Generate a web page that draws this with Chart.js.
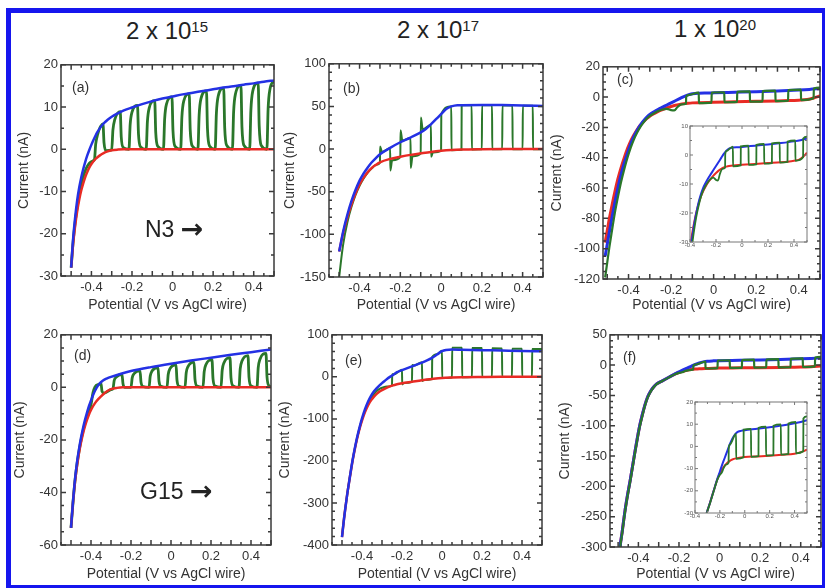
<!DOCTYPE html>
<html>
<head>
<meta charset="utf-8">
<title>Chopped-light voltammograms</title>
<script src="https://cdn.jsdelivr.net/npm/chart.js@4.4.1/dist/chart.umd.min.js"></script>
<style>
  html, body { margin: 0; padding: 0; background: #fff; }
  #page { position: relative; width: 825px; height: 588px; overflow: hidden; background: #fff;
          font-family: "Liberation Sans", Arial, Helvetica, sans-serif; color: #222; }
  #frame { position: absolute; left: 6px; top: 8px; right: 0; bottom: 0; box-sizing: border-box;
           border-style: solid; border-color: #1616ee; border-width: 5px 3px 3px 5px; }
  canvas { position: absolute; }
  .lbl { position: absolute; white-space: nowrap; line-height: 1; transform: translateY(-50%); z-index: 5; }
  .col { font-size: 24px; transform: translate(-50%, -50%); }
  .col sup { font-size: 15px; vertical-align: baseline; position: relative; top: -7px; }
  .pl { font-size: 14px; color: #333; }
  .big { font-size: 23px; }
  .arr { font-family: "DejaVu Sans", sans-serif; font-size: 27px; font-weight: bold; position: relative; top: 1px; }
</style>
</head>
<body>
<div id="page">
  <div id="frame"></div>
  <div class="lbl col" style="left:167px;top:31px">2 x 10<sup>15</sup></div>
  <div class="lbl col" style="left:438px;top:30px">2 x 10<sup>17</sup></div>
  <div class="lbl col" style="left:715px;top:29px">1 x 10<sup>20</sup></div>
  <div class="lbl pl" style="left:72px;top:87px">(a)</div>
  <div class="lbl pl" style="left:343px;top:88px">(b)</div>
  <div class="lbl pl" style="left:617px;top:79px">(c)</div>
  <div class="lbl pl" style="left:74px;top:355px">(d)</div>
  <div class="lbl pl" style="left:345px;top:360px">(e)</div>
  <div class="lbl pl" style="left:623px;top:357px">(f)</div>
  <div class="lbl big" style="left:145px;top:227px">N3 <span class="arr">→</span></div>
  <div class="lbl big" style="left:140px;top:489px">G15 <span class="arr">→</span></div>
</div>
<script>
// tick labels
const xTickValues = [-0.4, -0.2, 0, 0.2, 0.4];
const aYTicks = [-30, -20, -10, 0, 10, 20];
const bYTicks = [-150, -100, -50, 0, 50, 100];
const cYTicks = [-120, -100, -80, -60, -40, -20, 0, 20];
const dYTicks = [-60, -40, -20, 0, 20];
const eYTicks = [-400, -300, -200, -100, 0, 100];
const fYTicks = [-300, -250, -200, -150, -100, -50, 0, 50];
const cInsetYTicks = [-30, -20, -10, 0, 10];
const fInsetYTicks = [-30, -20, -10, 0, 10, 20];

const xTitle = 'Potential (V vs AgCl wire)';
const yTitle = 'Current (nA)';

// [potential (V), current (nA)]
// (a) N3, 2 x 10^15
const aBlue = [[-0.5,-28],[-0.49,-21],[-0.48,-16],[-0.47,-12],[-0.46,-9],[-0.45,-6.6],[-0.44,-4.6],[-0.43,-2.9],[-0.42,-1.4],[-0.41,-0.1],[-0.4,1.1],[-0.39,2.2],[-0.38,3.2],[-0.37,4.1],[-0.36,4.9],[-0.34,6.1],[-0.32,7],[-0.3,7.7],[-0.27,8.5],[-0.24,9.2],[-0.2,9.9],[-0.15,10.7],[-0.1,11.4],[-0.05,12],[0,12.5],[0.05,13],[0.1,13.4],[0.15,13.8],[0.2,14.2],[0.25,14.6],[0.3,14.9],[0.35,15.3],[0.4,15.6],[0.45,16],[0.5,16.3]];
const aRed = [[-0.5,-28],[-0.49,-22.3],[-0.48,-18],[-0.47,-14.6],[-0.46,-11.9],[-0.45,-9.7],[-0.44,-8],[-0.43,-6.5],[-0.42,-5.3],[-0.41,-4.3],[-0.4,-3.5],[-0.38,-2.3],[-0.36,-1.5],[-0.34,-0.9],[-0.32,-0.5],[-0.3,-0.25],[-0.27,-0.08],[-0.24,0],[0.5,0]];
const aGreen = [[-0.5,-28],[-0.49,-21.8],[-0.48,-17.2],[-0.47,-13.6],[-0.46,-10.6],[-0.45,-8.3],[-0.44,-6.4],[-0.43,-5],[-0.42,-4],[-0.41,-3.3],[-0.4,-2.9],[-0.385,-2.4],
  [-0.379,1.2],[-0.37,3.4],[-0.343,6],[-0.338,1.6],[-0.328,-0.3],[-0.3,-0.15],
  [-0.294,4.6],[-0.285,7],[-0.258,8.9],[-0.253,2.9],[-0.243,0.4],[-0.215,0],
  [-0.209,5.9],[-0.2,8.8],[-0.173,10.4],[-0.168,3.6],[-0.158,0.6],[-0.13,0],
  [-0.124,6.6],[-0.115,9.8],[-0.088,11.5],[-0.083,4],[-0.073,0.7],[-0.045,0],
  [-0.039,7.2],[-0.03,10.7],[-0.003,12.4],[0.002,4.4],[0.012,0.7],[0.04,0],
  [0.046,7.7],[0.055,11.4],[0.082,13.1],[0.087,4.6],[0.097,0.8],[0.125,0],
  [0.131,8.1],[0.14,12],[0.167,13.8],[0.172,4.9],[0.182,0.8],[0.21,0],
  [0.216,8.5],[0.225,12.6],[0.252,14.5],[0.257,5.1],[0.267,0.9],[0.295,0],
  [0.301,8.9],[0.31,13.1],[0.337,15.1],[0.342,5.3],[0.352,0.9],[0.38,0],
  [0.386,9.2],[0.395,13.7],[0.422,15.7],[0.427,5.6],[0.437,0.9],[0.465,0],
  [0.471,9.6],[0.48,14.2],[0.5,16.2]];

// (b) N3, 2 x 10^17
const bBlue = [[-0.5,-120],[-0.48,-96],[-0.46,-77],[-0.44,-61],[-0.42,-48],[-0.4,-37],[-0.38,-28.5],[-0.36,-21.5],[-0.34,-15.5],[-0.32,-10.5],[-0.3,-6],[-0.25,1.5],[-0.2,8],[-0.15,13.5],[-0.1,19.5],[-0.075,23.5],[-0.05,29],[-0.025,35],[0,41],[0.025,47],[0.05,50],[0.08,51.5],[0.2,51.8],[0.3,51.6],[0.4,51.2],[0.5,50.5]];
const bRed = [[-0.5,-120],[-0.48,-98],[-0.46,-80],[-0.44,-65],[-0.42,-52],[-0.4,-41.5],[-0.38,-33.5],[-0.36,-27],[-0.34,-22],[-0.32,-18.5],[-0.3,-15.5],[-0.25,-11.5],[-0.2,-9],[-0.15,-6.8],[-0.1,-5],[-0.05,-3.3],[0,-2],[0.05,-1.1],[0.1,-0.6],[0.2,-0.2],[0.3,0],[0.5,0]];
const bGreen = [[-0.5,-150],[-0.49,-129],[-0.48,-111],[-0.46,-86],[-0.44,-68],[-0.42,-54],[-0.4,-43],[-0.38,-34.5],[-0.36,-27.5],[-0.34,-22.5],[-0.32,-18.8],[-0.3,-16],
  [-0.299,3],[-0.29,-3.5],[-0.25,1],
  [-0.249,-25],[-0.24,-13],[-0.2,-9.3],
  [-0.199,22],[-0.19,10],[-0.15,13],
  [-0.149,-22],[-0.14,-8.5],[-0.1,-5.3],
  [-0.099,37],[-0.09,23],[-0.05,28.5],
  [-0.049,-9],[-0.04,-4],[0,-2.2],
  [0.001,41],[0.05,50],
  [0.051,-1.3],[0.1,-0.8],
  [0.101,51.3],[0.15,51.5],
  [0.151,-0.4],[0.2,-0.3],
  [0.201,51.5],[0.25,51.5],
  [0.251,-0.2],[0.3,-0.2],
  [0.301,51.3],[0.35,51.2],
  [0.351,-0.2],[0.4,-0.2],
  [0.401,50.9],[0.45,50.7],
  [0.451,-0.2],[0.5,-0.2]];

// (c) N3, 1 x 10^20 (also used by its inset)
const cBlue = [[-0.51,-105],[-0.5,-97],[-0.49,-89],[-0.48,-81],[-0.465,-70],[-0.45,-60],[-0.435,-51],[-0.42,-43.5],[-0.405,-37],[-0.39,-31],[-0.375,-26],[-0.36,-22],[-0.345,-18.6],[-0.33,-15.7],[-0.315,-13.4],[-0.3,-11.5],[-0.28,-9.6],[-0.26,-8],[-0.24,-6.6],[-0.22,-5.2],[-0.2,-3.8],[-0.18,-2.4],[-0.16,-1],[-0.14,0.4],[-0.12,1.5],[-0.1,2.2],[-0.07,2.6],[-0.03,2.7],[0,2.8],[0.1,3.2],[0.2,3.6],[0.3,4.1],[0.4,4.7],[0.45,5.1],[0.5,5.7]];
const cRed = [[-0.51,-96],[-0.5,-88],[-0.49,-80],[-0.48,-73],[-0.465,-63],[-0.45,-54],[-0.435,-46.5],[-0.42,-40],[-0.405,-34],[-0.39,-29],[-0.375,-25],[-0.36,-21.5],[-0.345,-18.6],[-0.33,-16.2],[-0.315,-14.2],[-0.3,-12.6],[-0.28,-10.9],[-0.26,-9.4],[-0.24,-8.2],[-0.22,-7.1],[-0.2,-6.2],[-0.18,-5.4],[-0.16,-4.8],[-0.14,-4.3],[-0.12,-4],[-0.1,-3.8],[0,-3.4],[0.1,-3.1],[0.2,-2.8],[0.3,-2.5],[0.35,-2.3],[0.4,-2],[0.44,-1.6],[0.47,-0.6],[0.5,0.8]];
const cGreen = [[-0.51,-119],[-0.5,-109],[-0.49,-99],[-0.48,-90],[-0.465,-77],[-0.45,-66],[-0.435,-56],[-0.42,-47.5],[-0.405,-40],[-0.39,-33.5],[-0.375,-28],[-0.36,-23.5],[-0.345,-19.8],[-0.33,-16.8],[-0.315,-14.3],[-0.3,-12.4],[-0.28,-10.6],[-0.26,-9.2],[-0.24,-8.2],[-0.22,-7.8],[-0.2,-8.6],[-0.185,-8.8],[-0.17,-6.5],[-0.15,-4.8],[-0.13,-4.4],
  [-0.129,0.2],[-0.12,1.3],[-0.07,2.9],
  [-0.069,-3.9],[-0.01,-3.6],
  [-0.009,3],[0.05,3.2],
  [0.051,-3.4],[0.11,-3.2],
  [0.111,3.5],[0.17,3.8],
  [0.171,-3],[0.23,-2.8],
  [0.231,4],[0.29,4.3],
  [0.291,-2.6],[0.35,-2.4],
  [0.351,4.6],[0.41,5],
  [0.411,-2],[0.47,-0.8],
  [0.471,5.7],[0.5,6.3]];

// (d) G15, 2 x 10^15
const dBlue = [[-0.5,-53.5],[-0.49,-43.5],[-0.48,-35],[-0.47,-28.5],[-0.46,-23.5],[-0.45,-19.2],[-0.44,-15.6],[-0.43,-12.4],[-0.42,-9.6],[-0.41,-7.1],[-0.4,-5],[-0.39,-3],[-0.38,-1.3],[-0.37,0.1],[-0.36,1.2],[-0.34,2.6],[-0.32,3.4],[-0.3,4],[-0.25,5.2],[-0.2,6.2],[-0.1,7.7],[0,9],[0.1,10.2],[0.2,11.3],[0.3,12.4],[0.4,13.4],[0.5,14.4]];
const dRed = [[-0.5,-53.5],[-0.49,-44],[-0.48,-36],[-0.47,-30],[-0.46,-25],[-0.45,-21],[-0.44,-17.6],[-0.43,-14.8],[-0.42,-12.4],[-0.41,-10.3],[-0.4,-8.6],[-0.38,-6],[-0.36,-4.2],[-0.34,-2.7],[-0.32,-1.5],[-0.3,-0.7],[-0.27,-0.2],[-0.24,0],[0.5,0]];
const dGreen = [[-0.5,-53.5],[-0.49,-43.8],[-0.48,-35.5],[-0.47,-29.3],[-0.46,-24.3],[-0.45,-20.1],[-0.44,-16.6],[-0.43,-13.6],[-0.42,-11],[-0.41,-8.7],[-0.4,-6.6],[-0.39,-2],[-0.38,0.2],[-0.36,1.2],[-0.35,1.5],[-0.345,-1.5],[-0.335,-2.2],[-0.3,-0.9],[-0.29,-0.5],
  [-0.284,2.6],[-0.275,3.8],[-0.245,4.9],[-0.24,1.4],[-0.23,0],[-0.2,0],
  [-0.194,3.6],[-0.185,5.2],[-0.155,6.3],[-0.15,2],[-0.14,0.3],[-0.11,0],
  [-0.104,4.2],[-0.095,6.2],[-0.065,7.5],[-0.06,2.3],[-0.05,0.4],[-0.02,0],
  [-0.014,4.9],[-0.005,7.1],[0.025,8.6],[0.03,2.7],[0.04,0.4],[0.07,0],
  [0.076,5.5],[0.085,7.9],[0.115,9.6],[0.12,3],[0.13,0.5],[0.16,0],
  [0.166,6],[0.175,8.7],[0.205,10.5],[0.21,3.3],[0.22,0.5],[0.25,0],
  [0.256,6.5],[0.265,9.4],[0.295,11.3],[0.3,3.6],[0.31,0.6],[0.34,0],
  [0.346,7],[0.355,10],[0.385,12.1],[0.39,3.9],[0.4,0.6],[0.43,0],
  [0.436,7.4],[0.445,10.7],[0.475,12.9],[0.48,4.1],[0.49,0.6],[0.5,0.2]];

// (e) G15, 2 x 10^17
const eBlue = [[-0.5,-381],[-0.49,-338],[-0.475,-283],[-0.46,-236],[-0.45,-206],[-0.44,-180],[-0.425,-145],[-0.41,-116],[-0.4,-99],[-0.385,-77],[-0.37,-59],[-0.355,-45],[-0.34,-34],[-0.325,-26],[-0.31,-19],[-0.3,-15],[-0.275,-5],[-0.25,3],[-0.225,11],[-0.2,16],[-0.15,25],[-0.1,34],[-0.075,39],[-0.05,45],[-0.025,53],[0,61],[0.02,64],[0.05,65],[0.1,64.5],[0.2,63.5],[0.3,62.5],[0.4,61.5],[0.5,61]];
const eRed = [[-0.5,-381],[-0.49,-338],[-0.475,-283],[-0.46,-237],[-0.45,-208],[-0.44,-182],[-0.425,-148],[-0.41,-120],[-0.4,-104],[-0.385,-84],[-0.37,-68],[-0.355,-56],[-0.34,-47],[-0.325,-40],[-0.31,-34.5],[-0.3,-31.5],[-0.275,-25.5],[-0.25,-21],[-0.225,-17.5],[-0.2,-15],[-0.15,-11.5],[-0.1,-8],[-0.05,-5],[0,-2.5],[0.05,-1.4],[0.1,-0.8],[0.2,-0.3],[0.3,0],[0.5,0]];
const eGreen = [[-0.5,-381],[-0.49,-338],[-0.475,-283],[-0.46,-237],[-0.45,-207],[-0.44,-181],[-0.425,-147],[-0.41,-118],[-0.4,-102],[-0.385,-81],[-0.37,-64],[-0.355,-51],[-0.34,-41],[-0.325,-33],[-0.31,-28],[-0.3,-26],[-0.275,-23],[-0.25,-21.5],
  [-0.249,6],[-0.24,6],[-0.2,17],
  [-0.199,-18],[-0.19,-14.5],[-0.15,-11.8],
  [-0.149,28],[-0.14,27],[-0.1,35],
  [-0.099,-10],[-0.09,-7.5],[-0.05,-5.2],
  [-0.049,47],[-0.025,54],[0,62],
  [0.001,-3],[0.05,-1.6],
  [0.051,69],[0.1,69],
  [0.101,-1],[0.15,-0.6],
  [0.151,68.5],[0.2,68.5],
  [0.201,-0.4],[0.25,-0.2],
  [0.251,68],[0.3,67.5],
  [0.301,-0.1],[0.35,-0.1],
  [0.351,67],[0.4,67],
  [0.401,-0.1],[0.45,-0.1],
  [0.451,66.5],[0.5,66.5]];

// (f) G15, 1 x 10^20 (also used by its inset)
const fBlue = [[-0.5,-350],[-0.49,-300],[-0.48,-275],[-0.466,-240],[-0.453,-213],[-0.44,-189],[-0.428,-165],[-0.417,-143],[-0.405,-120],[-0.393,-99],[-0.38,-81],[-0.368,-66],[-0.355,-53],[-0.34,-43],[-0.325,-36],[-0.31,-31],[-0.28,-25.5],[-0.25,-20],[-0.22,-14.5],[-0.2,-11.3],[-0.18,-8],[-0.16,-5],[-0.14,-2],[-0.12,1],[-0.1,3.5],[-0.08,5.3],[-0.06,6.4],[-0.03,7],[0,7.3],[0.1,7.9],[0.2,8.6],[0.3,9.4],[0.4,10.4],[0.45,11],[0.5,11.8]];
const fRed = [[-0.5,-350],[-0.49,-300],[-0.48,-275],[-0.466,-240],[-0.453,-213],[-0.44,-189],[-0.428,-165],[-0.417,-143],[-0.405,-120],[-0.393,-99],[-0.38,-81],[-0.368,-66],[-0.355,-53],[-0.34,-43],[-0.325,-36],[-0.31,-31],[-0.28,-25.5],[-0.25,-20],[-0.22,-14.8],[-0.2,-12.2],[-0.18,-10.2],[-0.16,-8.6],[-0.14,-7.4],[-0.12,-6.5],[-0.1,-5.9],[-0.07,-5.4],[-0.03,-5],[0,-4.8],[0.1,-4.5],[0.2,-4.2],[0.3,-3.8],[0.4,-3.3],[0.45,-2.6],[0.5,-1.5]];
const fGreen = [[-0.5,-352],[-0.49,-302],[-0.48,-277],[-0.466,-242],[-0.453,-215],[-0.44,-191],[-0.428,-167],[-0.417,-145],[-0.405,-122],[-0.393,-101],[-0.38,-83],[-0.368,-67],[-0.355,-54],[-0.34,-44],[-0.325,-36.5],[-0.31,-31.3],[-0.28,-25.7],[-0.25,-20.2],[-0.22,-15],[-0.2,-12.8],[-0.185,-11.8],[-0.17,-9.8],[-0.15,-8.2],[-0.13,-7.3],
  [-0.129,-1],[-0.12,0.8],[-0.07,5.6],
  [-0.069,-5.6],[-0.01,-4.9],
  [-0.009,7.6],[0.05,7.9],
  [0.051,-4.7],[0.11,-4.4],
  [0.111,8.4],[0.17,8.9],
  [0.171,-4.1],[0.23,-3.9],
  [0.231,9.3],[0.29,9.9],
  [0.291,-3.7],[0.35,-3.4],
  [0.351,10.3],[0.41,11],
  [0.411,-3.1],[0.47,-2.2],
  [0.471,12.6],[0.5,13.5]];

const page = document.getElementById('page');
const FONT = '"Liberation Sans", Arial, Helvetica, sans-serif';
const BLUE = '#2431e4', RED = '#e82b24', GREEN = '#2a772a';

// box frame with inward ticks on all four sides, plus white fill for insets
const frameTicks = {
  id: 'frameTicks',
  beforeDatasetsDraw(chart, args, o) {
    if (!o.fill) return;
    const a = chart.chartArea;
    chart.ctx.save();
    chart.ctx.fillStyle = o.fill;
    chart.ctx.fillRect(a.left, a.top, a.right - a.left, a.bottom - a.top);
    chart.ctx.restore();
  },
  afterDatasetsDraw(chart, args, o) {
    const {ctx, chartArea: a} = chart;
    const x = chart.scales.x, y = chart.scales.y;
    ctx.save();
    ctx.strokeStyle = o.color;
    ctx.lineWidth = o.width;
    ctx.strokeRect(a.left, a.top, a.right - a.left, a.bottom - a.top);
    ctx.beginPath();
    for (let n = Math.ceil(x.min / o.xStep - 1e-6); n * o.xStep <= x.max + 1e-9; n++) {
      const px = x.getPixelForValue(n * o.xStep);
      const len = n % o.xEvery === 0 ? o.major : o.minor;
      ctx.moveTo(px, a.bottom); ctx.lineTo(px, a.bottom - len);
      ctx.moveTo(px, a.top); ctx.lineTo(px, a.top + len);
    }
    for (let n = Math.ceil(y.min / o.yStep - 1e-6); n * o.yStep <= y.max + 1e-9; n++) {
      const py = y.getPixelForValue(n * o.yStep);
      const len = n % o.yEvery === 0 ? o.major : o.minor;
      ctx.moveTo(a.left, py); ctx.lineTo(a.left + len, py);
      ctx.moveTo(a.right, py); ctx.lineTo(a.right - len, py);
    }
    ctx.stroke();
    ctx.restore();
  }
};
Chart.register(frameTicks);

const label = v => String(Math.round(v * 100) / 100);

function drawPanel(p) {
  const inset = !!p.inset;
  const lh = 14 * 1.2;
  const left = inset ? p.L - 18 : Math.round(p.titleX - lh / 2);
  const top = p.T - (inset ? 6 : 9);
  const right = p.R + 6;
  const bottom = inset ? p.B + 12 : Math.round(p.titleY + lh / 2);

  const cv = document.createElement('canvas');
  cv.width = right - left;
  cv.height = bottom - top;
  Object.assign(cv.style, {left: left + 'px', top: top + 'px', width: cv.width + 'px', height: cv.height + 'px'});
  page.appendChild(cv);

  const series = (pairs, color, width) => ({
    data: pairs.map(([x, y]) => ({x, y})),
    borderColor: color,
    borderWidth: width,
    pointRadius: 0,
    fill: false,
    cubicInterpolationMode: 'monotone'
  });
  const lw = p.lw || 2.5;
  const blue = series(p.blue, BLUE, lw);
  const red = series(p.red, RED, lw);
  const green = series(p.green, GREEN, p.gw || 2.2);
  // first dataset is drawn on top
  const datasets = p.greenTop ? [green, blue, red] : [blue, red, green];

  const tickFont = {family: FONT, size: inset ? 6 : 13};
  const tickColor = inset ? '#555' : '#333';
  const titleFont = {family: FONT, size: 14};

  new Chart(cv, {
    type: 'line',
    data: {datasets},
    options: {
      responsive: false,
      animation: false,
      devicePixelRatio: 1,
      events: [],
      layout: {padding: {left: 0, top: p.T - top, right: right - p.R, bottom: 0}},
      plugins: {
        legend: {display: false},
        tooltip: {enabled: false},
        frameTicks: inset
          ? {xStep: 0.1, xEvery: 2, yStep: p.yStep, yEvery: p.yEvery, major: 3, minor: 2, color: '#777', width: 1, fill: '#fff'}
          : {xStep: 0.05, xEvery: 2, yStep: p.yStep, yEvery: p.yEvery, major: 5, minor: 3, color: '#3a3a3a', width: 1.5}
      },
      scales: {
        x: {
          type: 'linear', position: 'bottom', min: p.xMin, max: p.xMax,
          grid: {display: false, drawTicks: false},
          border: {display: false},
          afterBuildTicks: s => { s.ticks = xTickValues.map(value => ({value})); },
          afterFit: s => { s.height = bottom - p.B; },
          ticks: {font: tickFont, color: tickColor, padding: inset ? 0 : 4, maxRotation: 0, autoSkip: false, callback: v => label(v)},
          title: {display: !inset, text: xTitle, font: titleFont, color: '#333', padding: 0}
        },
        y: {
          type: 'linear', position: 'left', min: p.yMin, max: p.yMax,
          grid: {display: false, drawTicks: false},
          border: {display: false},
          afterBuildTicks: s => { s.ticks = p.yTicks.map(value => ({value})); },
          afterFit: s => { s.width = p.L - left; },
          ticks: {font: tickFont, color: tickColor, padding: inset ? 2 : 3, autoSkip: false, callback: v => label(v)},
          title: {display: !inset, text: yTitle, font: titleFont, color: '#333', padding: 0}
        }
      }
    }
  });
}

drawPanel({L: 61, T: 63, R: 274, B: 276, titleX: 24.5, titleY: 306, xMin: -0.55, xMax: 0.5, yMin: -30, yMax: 20,
  yTicks: aYTicks, yStep: 5, yEvery: 2, blue: aBlue, red: aRed, green: aGreen, gw: 2.8});
drawPanel({L: 329, T: 62, R: 543, B: 277, titleX: 290, titleY: 306, xMin: -0.55, xMax: 0.5, yMin: -150, yMax: 100,
  yTicks: bYTicks, yStep: 10, yEvery: 5, blue: bBlue, red: bRed, green: bGreen, gw: 2});
drawPanel({L: 603, T: 65, R: 820, B: 279, titleX: 557, titleY: 306, xMin: -0.52, xMax: 0.5, yMin: -120, yMax: 20,
  yTicks: cYTicks, yStep: 5, yEvery: 4, blue: cBlue, red: cRed, green: cGreen, greenTop: true, lw: 3, gw: 2.2});
drawPanel({L: 61, T: 333, R: 271, B: 545, titleX: 20.5, titleY: 575, xMin: -0.55, xMax: 0.5, yMin: -60, yMax: 20,
  yTicks: dYTicks, yStep: 5, yEvery: 4, blue: dBlue, red: dRed, green: dGreen, gw: 2.8});
drawPanel({L: 332, T: 333, R: 542, B: 545, titleX: 285, titleY: 575, xMin: -0.55, xMax: 0.5, yMin: -400, yMax: 100,
  yTicks: eYTicks, yStep: 20, yEvery: 5, blue: eBlue, red: eRed, green: eGreen, gw: 2});
drawPanel({L: 610, T: 333, R: 821, B: 547, titleX: 565, titleY: 575, xMin: -0.54, xMax: 0.5, yMin: -300, yMax: 50,
  yTicks: fYTicks, yStep: 10, yEvery: 5, blue: fBlue, red: fRed, green: fGreen, greenTop: true, lw: 3, gw: 2.2});
// insets
drawPanel({inset: true, L: 690, T: 126, R: 807, B: 242, xMin: -0.4, xMax: 0.5, yMin: -30, yMax: 10,
  yTicks: cInsetYTicks, yStep: 5, yEvery: 2, blue: cBlue, red: cRed, green: cGreen, greenTop: true, lw: 2, gw: 1.8});
drawPanel({inset: true, L: 695, T: 402, R: 807, B: 513, xMin: -0.4, xMax: 0.5, yMin: -30, yMax: 20,
  yTicks: fInsetYTicks, yStep: 5, yEvery: 2, blue: fBlue, red: fRed, green: fGreen, greenTop: true, lw: 2, gw: 1.8});
</script>
</body>
</html>
